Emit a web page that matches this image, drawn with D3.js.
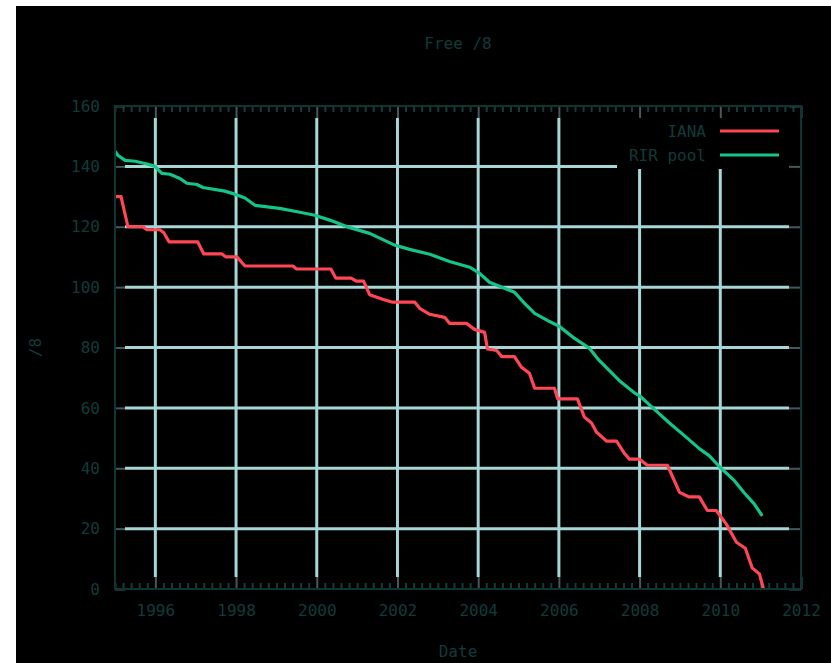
<!DOCTYPE html>
<html>
<head>
<meta charset="utf-8">
<script src="https://cdn.jsdelivr.net/npm/d3@7"></script>
<style>
  html, body { margin: 0; padding: 0; background: #fff; }
  svg { display: block; }
  text { font-family: "DejaVu Sans Mono", monospace; font-size: 16px; fill: #103b3b; }
</style>
</head>
<body>
<div id="chart"></div>
<script>
// free /8 blocks (decimal years)
const ianaDates = [1995.00, 1995.15, 1995.32, 1995.69, 1995.79, 1996.11, 1996.21, 1996.34, 1997.05, 1997.20,
  1997.65, 1997.75, 1998.02, 1998.22, 1999.41, 1999.50, 2000.35, 2000.47, 2000.85, 2000.98, 2001.16, 2001.31,
  2001.63, 2001.88, 2002.43, 2002.55, 2002.80, 2003.17, 2003.29, 2003.71, 2003.91, 2004.16, 2004.23, 2004.46,
  2004.58, 2004.90, 2005.07, 2005.27, 2005.40, 2005.89, 2005.97, 2006.46, 2006.63, 2006.81, 2006.93, 2007.18,
  2007.43, 2007.62, 2007.75, 2008.00, 2008.19, 2008.69, 2008.99, 2009.23, 2009.48, 2009.68, 2009.90, 2010.15,
  2010.40, 2010.62, 2010.79, 2010.97, 2011.07];
const ianaFree = [130, 130, 120, 120, 119, 119, 118, 115, 115, 111,
  111, 110, 110, 107, 107, 106, 106, 103, 103, 102, 102, 97.5,
  96, 95, 95, 93, 91, 90, 88, 88, 86, 85, 79.5, 79,
  77, 77, 73.5, 71.5, 66.5, 66.5, 63, 63, 57, 55, 52, 49,
  49, 45, 43, 43, 41, 41, 32, 30.5, 30.5, 26, 26, 21.5,
  15.5, 13.5, 7, 5, 0];

const rirDates = [1995.00, 1995.07, 1995.25, 1995.50, 1995.82, 1995.99, 1996.16, 1996.36, 1996.61, 1996.78,
  1997.03, 1997.18, 1997.72, 1997.97, 1998.22, 1998.47, 1999.08, 1999.58, 1999.95, 2000.32, 2000.82, 2001.31,
  2001.93, 2002.30, 2002.80, 2003.29, 2003.79, 2004.03, 2004.28, 2004.90, 2005.15, 2005.40, 2005.77, 2006.01,
  2006.39, 2006.76, 2007.00, 2007.50, 2007.87, 2008.00, 2008.49, 2008.74, 2009.11, 2009.48, 2009.73, 2009.98,
  2010.35, 2010.59, 2010.84, 2011.04];
const rirFree = [145, 143.7, 142, 141.7, 140.7, 140, 137.7, 137.4, 136, 134.4,
  134, 133, 131.8, 130.8, 129.5, 127.1, 126.1, 124.8, 123.8, 122.2, 119.7, 117.8,
  113.9, 112.5, 110.9, 108.5, 106.6, 104.6, 101.6, 98.3, 94.6, 91.3, 88.6, 87,
  83, 79.7, 75.7, 69, 65, 64, 58, 55, 50.8, 46.5, 44.1, 40.5,
  35.9, 31.9, 28.2, 24.2];

const xTicks = [1996, 1998, 2000, 2002, 2004, 2006, 2008, 2010, 2012];
const yTicks = [0, 20, 40, 60, 80, 100, 120, 140, 160];
const seriesNames = ["IANA", "RIR pool"];
const seriesColors = ["#ff4655", "#14c48a"];

const W = 831, H = 663;
const margin = {left: 115, right: 30, top: 106, bottom: 74};

const svg = d3.select("#chart").append("svg")
    .attr("width", W)
    .attr("height", H);

// black canvas, white strip left and top
svg.append("rect")
    .attr("x", 16).attr("y", 6)
    .attr("width", W - 16).attr("height", H - 6)
    .attr("fill", "#000");

const x = d3.scaleLinear().domain([1995, 2012]).range([margin.left, W - margin.right]);
const y = d3.scaleLinear().domain([0, 160]).range([H - margin.bottom, margin.top]);

const x0 = x.range()[0], x1 = x.range()[1];
const y0 = y.range()[0], y1 = y.range()[1];
const majorLen = 12, minorLen = 6;

// grid
const grid = svg.append("g").attr("stroke", "#a6d6d6").attr("stroke-width", 3);
grid.selectAll(".vgrid")
    .data(xTicks.filter(d => d > 1995 && d < 2012))
    .enter().append("line")
    .attr("x1", d => x(d)).attr("x2", d => x(d))
    .attr("y1", y1 + majorLen).attr("y2", y0 - majorLen);
grid.selectAll(".hgrid")
    .data(yTicks.filter(d => d > 0 && d < 160))
    .enter().append("line")
    .attr("x1", x0 + 10).attr("x2", x1 - majorLen)
    .attr("y1", d => y(d)).attr("y2", d => y(d));

// legend box hides grid behind it
svg.append("rect")
    .attr("x", 617).attr("y", y1 + 1)
    .attr("width", x1 - majorLen - 617).attr("height", 62)
    .attr("fill", "#000");

// axes (ticks point inward like gnuplot)
const minorTicks = d3.range(1995, 2012.001, 0.2).filter(d => Math.abs(d - Math.round(d / 2) * 2) > 0.01 || d < 1995.5);

const xAxisB = d3.axisBottom(x).tickValues(xTicks).tickSize(-majorLen).tickPadding(16).tickFormat(d3.format("d"));
const xAxisT = d3.axisTop(x).tickValues(xTicks).tickSize(-majorLen).tickFormat("");
const xMinorB = d3.axisBottom(x).tickValues(minorTicks).tickSize(-minorLen).tickFormat("");
const xMinorT = d3.axisTop(x).tickValues(minorTicks).tickSize(-minorLen).tickFormat("");
const yAxisL = d3.axisLeft(y).tickValues(yTicks).tickSize(-10).tickPadding(15);
const yAxisR = d3.axisRight(y).tickValues(yTicks).tickSize(-majorLen).tickFormat("");

function styleAxis(g, col) {
  g.select(".domain").remove();
  g.selectAll(".tick line").attr("stroke", col).attr("stroke-width", 2);
  g.selectAll(".tick text").style("font-family", "DejaVu Sans Mono, monospace").style("font-size", "16px").attr("fill", "#103b3b");
}

svg.append("g").attr("transform", `translate(0,${y0})`).call(xMinorB).call(g => styleAxis(g, "#123c3c"));
svg.append("g").attr("transform", `translate(0,${y1})`).call(xMinorT).call(g => styleAxis(g, "#123c3c"));

// series lines
const line = d3.line().x(d => x(d[0])).y(d => y(d[1]));
const series = [d3.zip(ianaDates, ianaFree), d3.zip(rirDates, rirFree)];
svg.selectAll(".series")
    .data(series)
    .enter().append("path")
    .attr("class", "series")
    .attr("d", line)
    .attr("fill", "none")
    .attr("stroke", (d, i) => seriesColors[i])
    .attr("stroke-width", 3.2)
    .attr("stroke-linejoin", "round");

svg.append("g").attr("transform", `translate(0,${y0})`).call(xAxisB).call(g => styleAxis(g, "#46585a"));
svg.append("g").attr("transform", `translate(0,${y1})`).call(xAxisT).call(g => styleAxis(g, "#46585a"));
svg.append("g").attr("transform", `translate(${x0},0)`).call(yAxisL).call(g => styleAxis(g, "#46585a"));
svg.append("g").attr("transform", `translate(${x1},0)`).call(yAxisR).call(g => styleAxis(g, "#46585a"));

// border
svg.append("rect")
    .attr("x", x0).attr("y", y1)
    .attr("width", x1 - x0).attr("height", y0 - y1)
    .attr("fill", "none")
    .attr("stroke", "#0f3434")
    .attr("stroke-width", 2);

// legend
const legend = svg.append("g");
seriesNames.forEach((name, i) => {
  const ly = 131 + i * 24;
  legend.append("text")
      .attr("x", 706).attr("y", ly)
      .attr("dy", "0.35em")
      .attr("text-anchor", "end")
      .text(name);
  legend.append("line")
      .attr("x1", 720).attr("x2", 779)
      .attr("y1", ly).attr("y2", ly)
      .attr("stroke", seriesColors[i])
      .attr("stroke-width", 3.2);
});

// titles
svg.append("text")
    .attr("x", (x0 + x1) / 2).attr("y", 43)
    .attr("dy", "0.35em")
    .attr("text-anchor", "middle")
    .text("Free /8");

svg.append("text")
    .attr("x", (x0 + x1) / 2).attr("y", 651)
    .attr("dy", "0.35em")
    .attr("text-anchor", "middle")
    .text("Date");

svg.append("text")
    .attr("transform", `translate(35,${(y0 + y1) / 2}) rotate(-90)`)
    .attr("dy", "0.35em")
    .attr("text-anchor", "middle")
    .text("/8");
</script>
</body>
</html>
